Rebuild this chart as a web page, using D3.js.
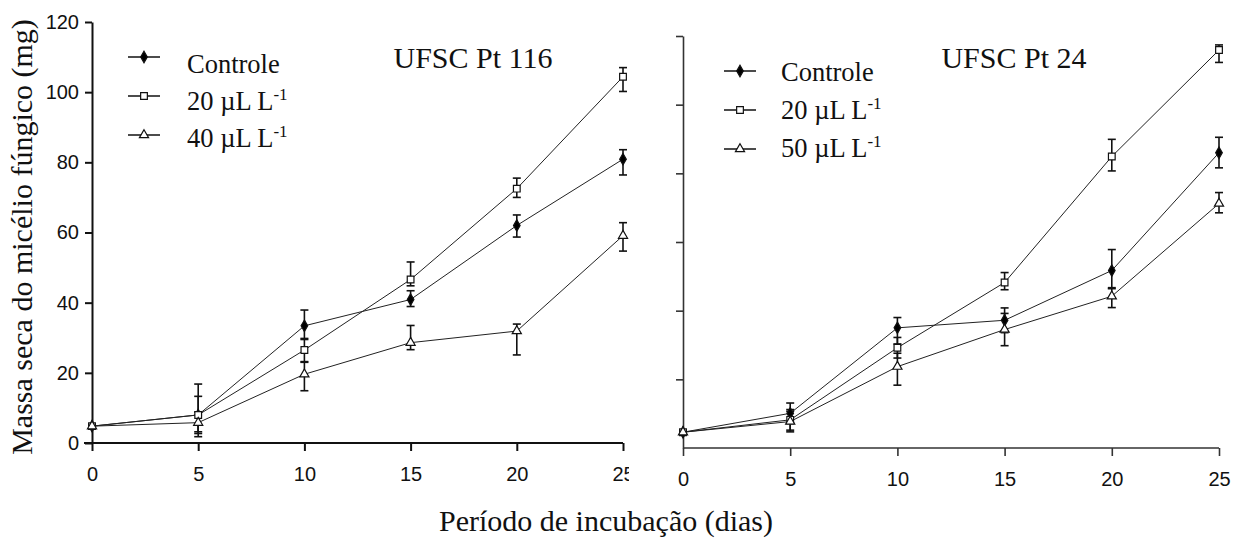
<!DOCTYPE html>
<html><head><meta charset="utf-8">
<script src="https://cdn.jsdelivr.net/npm/d3@7"></script>
<style>body{margin:0;background:#fff}svg{display:block}</style>
</head><body><svg id="c" width="1234" height="538"></svg>
<script>
const days = [0, 5, 10, 15, 20, 25];
const xTicks = [0, 5, 10, 15, 20, 25];
const yTicks = [0, 20, 40, 60, 80, 100, 120];

// Panel A: UFSC Pt 116
const a_ctrl = [4.8, 8, 33.4, 40.9, 62, 80.9];
const a_ctrl_lo = [0.5, 6.2, 3.6, 2, 3.3, 4.5];
const a_ctrl_hi = [0.5, 8.8, 4.5, 2.5, 3, 2.7];
const a_20 = [4.8, 8, 26.5, 46.6, 72.5, 104.4];
const a_20_lo = [0.5, 5.3, 3.3, 1.8, 2.5, 4.2];
const a_20_hi = [0.5, 5.3, 3, 5, 3, 2.6];
const a_40 = [4.8, 5.8, 19.6, 28.6, 31.9, 59.1];
const a_40_lo = [0.5, 2.6, 4.7, 2, 6.8, 4.4];
const a_40_hi = [0.5, 3, 3.4, 4.9, 2, 3.7];

// Panel B: UFSC Pt 24
const b_ctrl = [4.6, 10.1, 35, 37.2, 51.7, 86];
const b_ctrl_lo = [0.5, 3, 4.7, 3.6, 5.3, 4.4];
const b_ctrl_hi = [0.5, 3, 3, 3.6, 6.1, 4.5];
const b_20 = [4.6, 8.2, 29.2, 48.2, 84.9, 115.9];
const b_20_lo = [0.5, 3, 3, 2.1, 4.2, 3.6];
const b_20_hi = [0.5, 3, 3, 2.9, 5, 1.5];
const b_50 = [4.6, 7.7, 23.7, 34.5, 44.2, 71.2];
const b_50_lo = [0.5, 3, 5.4, 4.7, 3.3, 2.7];
const b_50_hi = [0.5, 3, 3.9, 4.7, 2.5, 3.2];

const legendA = ["Controle", "20 µL L", "40 µL L"];
const legendB = ["Controle", "20 µL L", "50 µL L"];
const titles = ["UFSC Pt 116", "UFSC Pt 24"];
const yLabel = "Massa seca do micélio fúngico (mg)";
const xLabel = "Período de incubação (dias)";

const svg = d3.select("#c");
const serif = "'Liberation Serif','Times New Roman',serif";
const sans = "'Liberation Sans',Arial,sans-serif";

const symbols = [d3.symbolDiamond, d3.symbolSquare, d3.symbolTriangle];
const symSizes = [38, 45, 36];
const fills = ["#000", "#fff", "#fff"];

const defs = svg.append("defs");
defs.append("clipPath").attr("id", "clipA").append("rect")
  .attr("x", 0).attr("y", 0).attr("width", 629).attr("height", 538);

function panel(opt) {
  const g = svg.append("g").attr("clip-path", opt.clip ? "url(#" + opt.clip + ")" : null);
  const x = d3.scaleLinear().domain([0, 25]).range(opt.xr);
  const y = d3.scaleLinear().domain([0, 120]).range(opt.yr);

  const xa = g.append("g").attr("transform", `translate(0,${opt.yr[0]})`)
    .call(d3.axisBottom(x).tickValues(xTicks).tickSize(8).tickPadding(opt.xPad).tickSizeOuter(0));
  xa.select(".domain").attr("stroke", opt.axisColor).attr("stroke-width", opt.axisW)
    .attr("d", `M${opt.xr[0] - opt.xExt},0H${opt.xr[1]}`);
  xa.selectAll(".tick line").attr("stroke", opt.axisColor).attr("stroke-width", opt.axisW);
  xa.selectAll(".tick text").attr("font-family", sans).attr("font-size", 20).attr("fill", "#111");

  const ya = g.append("g").attr("transform", `translate(${opt.xr[0]},0)`)
    .call(d3.axisLeft(y).tickValues(yTicks).tickSize(7).tickPadding(6).tickSizeOuter(0));
  ya.select(".domain").attr("stroke", opt.axisColor).attr("stroke-width", opt.axisW);
  ya.selectAll(".tick line").attr("stroke", opt.axisColor).attr("stroke-width", opt.axisW);
  ya.selectAll(".tick text").attr("font-family", sans).attr("font-size", 20).attr("fill", "#111")
    .style("display", opt.yLabels ? null : "none");
  ya.selectAll(".tick").filter(d => d === 0 && !opt.yLabels).select("line").remove();

  const line = d3.line().x((d, i) => x(days[i])).y(d => y(d));

  opt.series.forEach((s, k) => {
    g.append("path").datum(s.v).attr("d", line).attr("fill", "none")
      .attr("stroke", "#222").attr("stroke-width", 1);
  });
  opt.series.forEach((s, k) => {
    const eg = g.append("g").attr("stroke", "#111").attr("stroke-width", 1.6);
    s.v.forEach((v, i) => {
      const cx = x(days[i]);
      const yt = y(v + s.hi[i]), yb = y(v - s.lo[i]);
      eg.append("line").attr("x1", cx).attr("x2", cx).attr("y1", yt).attr("y2", yb);
      eg.append("line").attr("x1", cx - 4).attr("x2", cx + 4).attr("y1", yt).attr("y2", yt);
      eg.append("line").attr("x1", cx - 4).attr("x2", cx + 4).attr("y1", yb).attr("y2", yb);
    });
  });
  opt.series.forEach((s, k) => {
    g.append("g").selectAll("path").data(s.v).join("path")
      .attr("transform", (d, i) => `translate(${x(days[i])},${y(d)})`)
      .attr("d", d3.symbol().type(symbols[k]).size(symSizes[k]))
      .attr("fill", fills[k]).attr("stroke", "#111").attr("stroke-width", 1.2);
  });

  svg.append("text").attr("x", opt.titleX).attr("y", 68).attr("text-anchor", "middle")
    .attr("font-family", serif).attr("font-size", 30).attr("fill", "#111").text(opt.title);

  opt.legend.forEach((t, k) => {
    const ly = opt.legY[k];
    svg.append("line").attr("x1", opt.legX).attr("x2", opt.legX + 32)
      .attr("y1", ly).attr("y2", ly).attr("stroke", "#111").attr("stroke-width", 1.5);
    svg.append("path").attr("transform", `translate(${opt.legX + 16},${ly})`)
      .attr("d", d3.symbol().type(symbols[k]).size(symSizes[k]))
      .attr("fill", fills[k]).attr("stroke", "#111").attr("stroke-width", 1.2);
    const tx = svg.append("text").attr("x", opt.legTX).attr("y", opt.legTY[k])
      .attr("font-family", serif).attr("font-size", 26.5).attr("fill", "#111").text(t);
    if (k > 0) tx.append("tspan").attr("dy", -10).attr("font-size", 17).text("-1");
  });
}

panel({
  xr: [92, 623], yr: [443, 22], xPad: 16, xExt: 8, axisColor: "#111", axisW: 2, yLabels: true, clip: "clipA",
  series: [{v: a_ctrl, lo: a_ctrl_lo, hi: a_ctrl_hi}, {v: a_20, lo: a_20_lo, hi: a_20_hi}, {v: a_40, lo: a_40_lo, hi: a_40_hi}],
  title: titles[0], titleX: 473,
  legend: legendA, legX: 128, legY: [57, 96, 135], legTX: 187, legTY: [73, 110, 147]
});
panel({
  xr: [683, 1219], yr: [448, 36], xPad: 16, xExt: 0, axisColor: "#333", axisW: 1.6, yLabels: false,
  series: [{v: b_ctrl, lo: b_ctrl_lo, hi: b_ctrl_hi}, {v: b_20, lo: b_20_lo, hi: b_20_hi}, {v: b_50, lo: b_50_lo, hi: b_50_hi}],
  title: titles[1], titleX: 1014,
  legend: legendB, legX: 724, legY: [71, 110, 149], legTX: 781, legTY: [81, 119, 157]
});

svg.append("text").attr("transform", "translate(32,237) rotate(-90)").attr("text-anchor", "middle")
  .attr("font-family", serif).attr("font-size", 30).attr("fill", "#111").text(yLabel);
svg.append("text").attr("x", 606).attr("y", 531).attr("text-anchor", "middle")
  .attr("font-family", serif).attr("font-size", 30).attr("fill", "#111").text(xLabel);
</script></body></html>
